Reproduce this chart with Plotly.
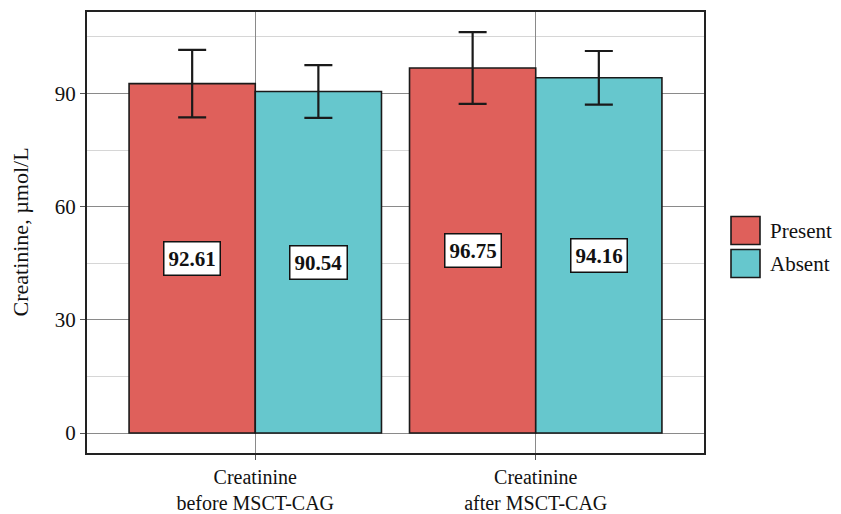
import plotly.graph_objects as go

categories = ["Creatinine<br>before MSCT-CAG", "Creatinine<br>after MSCT-CAG"]
groups = ["Present", "Absent"]
present_mean = [92.61, 96.75]
absent_mean = [90.54, 94.16]
present_sd = [8.95, 9.5]
absent_sd = [7.0, 7.1]
y_ticks = [0, 30, 60, 90]

colors = {"Present": "#DF605B", "Absent": "#66C7CD"}
FONT = "Liberation Serif, Times New Roman, serif"

fig = go.Figure()
for name, means, sds in [("Present", present_mean, present_sd), ("Absent", absent_mean, absent_sd)]:
    fig.add_trace(go.Bar(
        x=categories, y=means, name=name,
        marker=dict(color=colors[name], line=dict(color="#1a1a1a", width=1.6)),
        error_y=dict(type="data", array=sds, visible=True, color="#1a1a1a", thickness=2.2, width=14),
        showlegend=False,
    ))

# value labels at half height
for i in range(len(categories)):
    for off, means in [(-0.225, present_mean), (0.225, absent_mean)]:
        fig.add_annotation(
            x=i + off, y=means[i] / 2, xref="x", yref="y",
            text="<b>%.2f</b>" % means[i], showarrow=False,
            font=dict(family=FONT, size=21, color="#111"),
            bgcolor="white", bordercolor="#111", borderwidth=1.5, borderpad=4,
        )

# custom legend
PH, PW = 441.0, 617.0
for j, name in enumerate(groups):
    y_top = 1 - (217 - 12.5 + j * 33) / PH
    y_bot = y_top - 28 / PH
    fig.add_shape(type="rect", xref="paper", yref="paper",
                  x0=(731 - 87) / PW, x1=(760 - 87) / PW, y0=y_bot, y1=y_top,
                  fillcolor=colors[name], line=dict(color="#1a1a1a", width=1.6))
    fig.add_annotation(xref="paper", yref="paper", x=(768 - 87) / PW, y=(y_top + y_bot) / 2,
                       text=name, showarrow=False, xanchor="left", yanchor="middle",
                       font=dict(family=FONT, size=21, color="#111"))

# y axis title
fig.add_annotation(xref="paper", yref="paper", x=(20 - 87) / PW, y=0.5,
                   text="Creatinine, µmol/L", textangle=-90, showarrow=False,
                   xanchor="center", yanchor="middle",
                   font=dict(family=FONT, size=22, color="#111"))

fig.update_layout(
    width=841, height=514,
    margin=dict(l=87, r=137, t=12, b=61, autoexpand=False),
    barmode="group", bargap=0.1, bargroupgap=0,
    plot_bgcolor="white", paper_bgcolor="white",
    font=dict(family=FONT, color="#111"),
)
fig.update_xaxes(
    range=[-0.6, 1.6], showline=True, mirror=True, linecolor="#222", linewidth=2,
    showgrid=True, gridcolor="#8a8a8a", gridwidth=1, automargin=False,
    ticks="outside", ticklen=5, tickcolor="#555", tickwidth=1,
    tickfont=dict(family=FONT, size=20, color="#111"),
)
fig.update_yaxes(
    range=[-5.3, 111.6], tickvals=y_ticks, showline=True, mirror=True, linecolor="#222", linewidth=2,
    showgrid=True, gridcolor="#8a8a8a", gridwidth=1, zeroline=False, automargin=False,
    minor=dict(dtick=15, tick0=0, showgrid=True, gridcolor="#d6d6d6", gridwidth=1),
    ticks="outside", ticklen=5, tickcolor="#555", tickwidth=1,
    tickfont=dict(family=FONT, size=21, color="#111"),
)

fig.write_html("out.html", config={"displayModeBar": False},
               post_script="document.body.style.margin='0';document.body.style.padding='0';")
